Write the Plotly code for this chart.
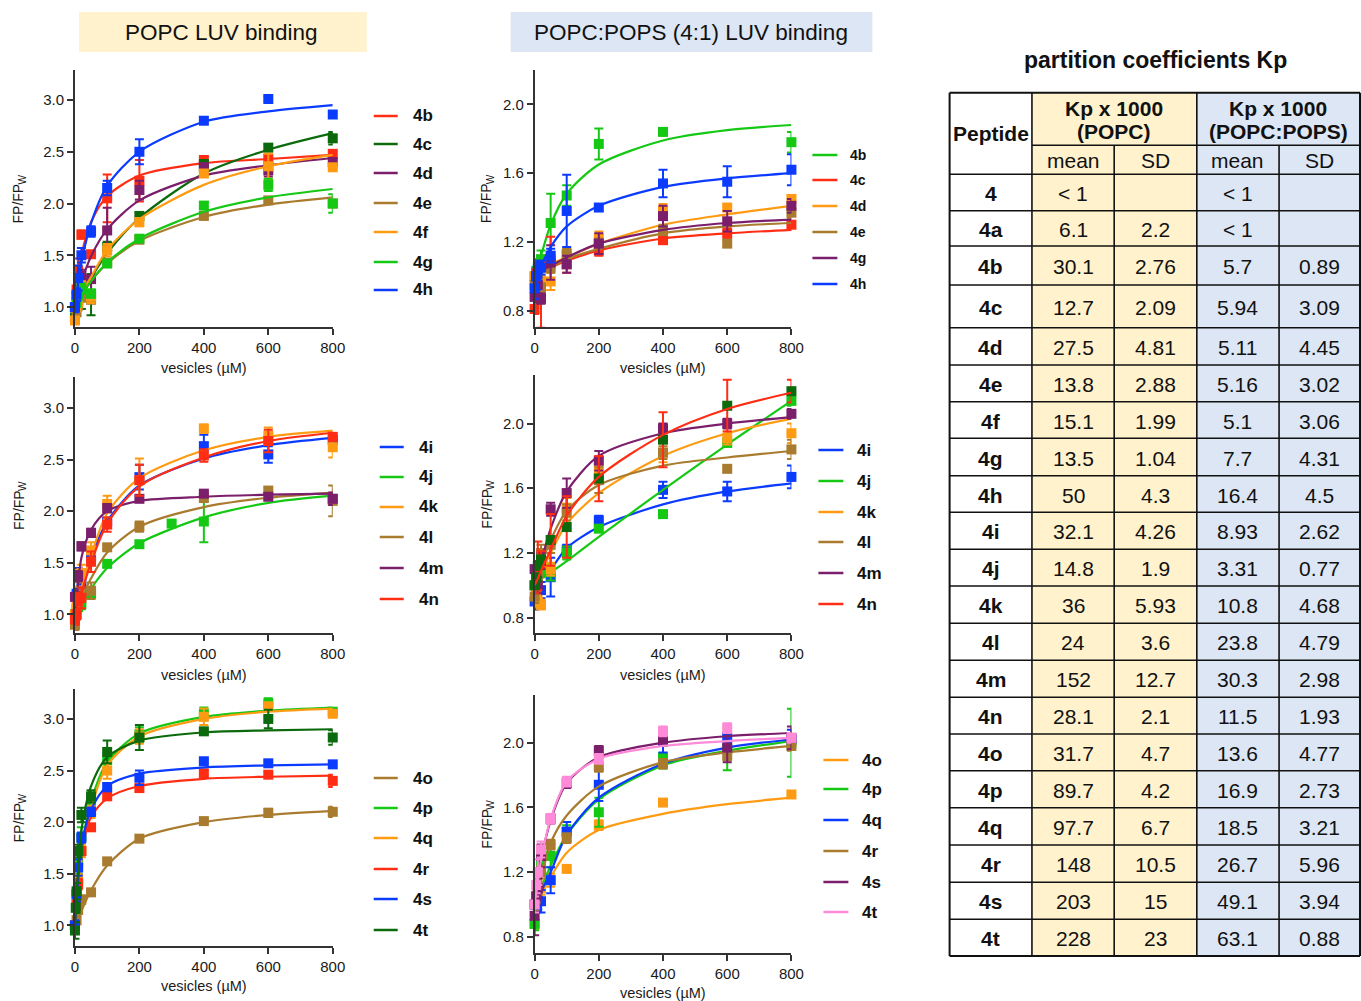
import plotly.graph_objects as go

W, H = 1361, 1001          # reference pixel space
FIG_W = 1377               # figure width (compensates horizontal squeeze of the capture)
X_SHIFT = 3                # compensates horizontal offset of the capture
FONT = "Arial, 'Liberation Sans', Helvetica, sans-serif"

RED = "#FF2D14"
DKGREEN = "#0B6A0B"
PURPLE = "#7B1E6B"
BROWN = "#A97B2F"
ORANGE = "#FF9B12"
GREEN = "#14C814"
BLUE = "#0B3BFF"
PINK = "#FF8AD8"

# ---------------- data ----------------
X_STD = [0, 5, 10, 20, 50, 100, 200, 400, 600, 800]
X_4J_POPC = [0, 5, 10, 20, 50, 100, 200, 300, 400, 800]
X_4M_POPC = [0, 10, 20, 50, 100, 200, 400, 600, 800]
X_4T_POPC = [0, 2.5, 5, 10, 20, 50, 100, 200, 400, 600, 800]
CURVE_X = [0, 10, 20, 50, 100, 200, 400, 600, 800]

X_TICKS = [0, 200, 400, 600, 800]
Y_TICKS_POPC = [1.0, 1.5, 2.0, 2.5, 3.0]
Y_TICKS_POPS = [0.8, 1.2, 1.6, 2.0]

# Panel 1: POPC, 4b-4h
P1_Y = {
    "4b": [1.0, 1.17, 1.35, 1.70, 1.51, 2.05, 2.22, 2.42, 2.43, 2.48],
    "4c": [0.90, 1.0, 1.07, 1.10, 1.12, 1.58, 1.88, 2.38, 2.54, 2.63],
    "4d": [1.0, 1.10, 1.20, 1.30, 1.27, 1.74, 2.13, 2.35, 2.32, 2.40],
    "4e": [1.0, 0.95, 1.02, 1.10, 1.07, 1.43, 1.65, 1.88, 2.03, 2.00],
    "4f": [0.87, 1.0, 1.05, 1.20, 1.10, 1.55, 1.82, 2.29, 2.36, 2.35],
    "4g": [1.0, 1.05, 1.12, 1.18, 1.13, 1.42, 1.66, 1.98, 2.18, 2.00],
    "4h": [1.0, 1.12, 1.28, 1.50, 1.73, 2.15, 2.50, 2.80, 3.01, 2.86],
}
P1_ERR = {
    "4b": [0.05, 0.05, 0.12, 0.04, 0.03, 0.23, 0.20, 0.04, 0.05, 0.03],
    "4c": [0.03, 0.04, 0.05, 0.12, 0.20, 0.05, 0.03, 0.04, 0.03, 0.06],
    "4d": [0.05, 0.05, 0.08, 0.06, 0.12, 0.22, 0.09, 0.04, 0.06, 0.04],
    "4e": [0.05, 0.04, 0.05, 0.05, 0.03, 0.03, 0.03, 0.03, 0.03, 0.03],
    "4f": [0.03, 0.04, 0.05, 0.05, 0.06, 0.06, 0.04, 0.03, 0.12, 0.03],
    "4g": [0.04, 0.05, 0.06, 0.05, 0.04, 0.03, 0.03, 0.03, 0.06, 0.09],
    "4h": [0.05, 0.06, 0.12, 0.07, 0.05, 0.07, 0.12, 0.02, 0.02, 0.02],
}
P1_FIT = {
    "4b": [1.0, 1.30, 1.50, 1.82, 2.07, 2.27, 2.39, 2.43, 2.47],
    "4c": [1.0, 1.06, 1.12, 1.28, 1.52, 1.86, 2.29, 2.52, 2.68],
    "4d": [1.0, 1.13, 1.24, 1.49, 1.75, 2.03, 2.27, 2.37, 2.44],
    "4e": [1.0, 1.06, 1.11, 1.25, 1.42, 1.64, 1.87, 1.99, 2.06],
    "4f": [1.0, 1.07, 1.13, 1.29, 1.55, 1.85, 2.18, 2.36, 2.47],
    "4g": [1.0, 1.06, 1.11, 1.25, 1.43, 1.66, 1.92, 2.06, 2.14],
    "4h": [1.0, 1.24, 1.43, 1.81, 2.17, 2.50, 2.79, 2.89, 2.95],
}

# Panel 2: POPC:POPS, 4b-4h
P2_Y = {
    "4b": [1.0, 1.03, 1.05, 1.10, 1.31, 1.47, 1.77, 1.84, None, 1.78],
    "4c": [0.81, 1.02, 1.0, 0.89, 1.10, 1.07, 1.15, 1.21, 1.25, 1.30],
    "4d": [1.0, 0.98, 1.0, 0.98, 0.97, 1.12, 1.22, 1.38, 1.40, 1.45],
    "4e": [0.95, 1.0, 0.98, 0.93, 1.05, 1.13, 1.19, 1.27, 1.19, 1.37],
    "4g": [0.88, 1.0, 0.95, 0.87, 1.08, 1.07, 1.19, 1.35, 1.32, 1.41],
    "4h": [0.93, 1.0, 1.04, 1.05, 1.12, 1.38, 1.40, 1.54, 1.55, 1.62],
}
P2_ERR = {
    "4b": [0.10, 0.05, 0.05, 0.05, 0.17, 0.06, 0.09, 0.02, 0.0, 0.06],
    "4c": [0.03, 0.05, 0.07, 0.19, 0.13, 0.05, 0.03, 0.02, 0.03, 0.03],
    "4d": [0.05, 0.05, 0.05, 0.05, 0.05, 0.04, 0.04, 0.04, 0.02, 0.02],
    "4e": [0.03, 0.03, 0.03, 0.03, 0.03, 0.03, 0.03, 0.03, 0.02, 0.03],
    "4g": [0.03, 0.05, 0.05, 0.03, 0.10, 0.05, 0.06, 0.06, 0.06, 0.04],
    "4h": [0.06, 0.08, 0.05, 0.04, 0.04, 0.21, 0.02, 0.08, 0.09, 0.09],
}
P2_FIT = {
    "4b": [1.0, 1.06, 1.12, 1.30, 1.48, 1.65, 1.79, 1.85, 1.88],
    "4c": [1.0, 1.01, 1.02, 1.05, 1.09, 1.15, 1.22, 1.25, 1.27],
    "4d": [1.0, 1.01, 1.03, 1.07, 1.11, 1.19, 1.30, 1.36, 1.41],
    "4e": [1.0, 1.01, 1.02, 1.05, 1.10, 1.16, 1.25, 1.29, 1.31],
    "4g": [1.0, 1.01, 1.03, 1.06, 1.11, 1.19, 1.27, 1.31, 1.33],
    "4h": [1.0, 1.02, 1.06, 1.17, 1.29, 1.41, 1.52, 1.57, 1.60],
}

# Panel 3: POPC, 4i-4n
P3_Y = {
    "4i": [1.0, 1.20, 1.40, 1.30, 1.57, 1.90, 2.33, 2.63, 2.55, 2.69],
    "4j": [1.0, 1.05, 1.07, 1.10, 1.20, 1.49, 1.68, 1.88, 1.90, 2.12],
    "4k": [1.0, 1.10, 1.35, 1.40, 1.62, 2.07, 2.30, 2.80, 2.73, 2.62],
    "4l": [0.90, 1.0, 1.10, 1.20, 1.23, 1.65, 1.85, 2.13, 2.20, 2.10],
    "4m": [1.17, 1.37, 1.66, 1.79, 2.03, 2.12, 2.17, 2.14, 2.12],
    "4n": [0.95, 1.0, 1.15, 1.16, 1.51, 1.87, 2.30, 2.54, 2.68, 2.72],
}
P3_ERR = {
    "4i": [0.05, 0.05, 0.05, 0.05, 0.04, 0.03, 0.12, 0.11, 0.08, 0.03],
    "4j": [0.04, 0.04, 0.03, 0.05, 0.04, 0.03, 0.02, 0.02, 0.20, 0.04],
    "4k": [0.05, 0.05, 0.08, 0.08, 0.08, 0.08, 0.21, 0.04, 0.08, 0.10],
    "4l": [0.05, 0.04, 0.05, 0.06, 0.08, 0.02, 0.05, 0.04, 0.03, 0.15],
    "4m": [0.05, 0.05, 0.04, 0.04, 0.04, 0.03, 0.03, 0.03, 0.06],
    "4n": [0.05, 0.05, 0.06, 0.10, 0.10, 0.07, 0.15, 0.06, 0.11, 0.04],
}
P3_FIT = {
    "4i": [1.0, 1.12, 1.24, 1.55, 1.90, 2.25, 2.51, 2.64, 2.71],
    "4j": [1.0, 1.04, 1.09, 1.25, 1.45, 1.69, 1.94, 2.08, 2.15],
    "4k": [1.0, 1.12, 1.25, 1.57, 1.98, 2.32, 2.59, 2.72, 2.78],
    "4l": [1.0, 1.07, 1.15, 1.35, 1.60, 1.85, 2.04, 2.13, 2.18],
    "4m": [1.0, 1.30, 1.55, 1.82, 2.00, 2.10, 2.14, 2.16, 2.17],
    "4n": [1.0, 1.10, 1.21, 1.50, 1.88, 2.24, 2.52, 2.68, 2.76],
}

# Panel 4: POPC:POPS, 4i-4n
P4_Y = {
    "4i": [0.90, 0.95, 0.97, 0.97, 1.05, 1.22, 1.40, 1.59, 1.58, 1.67],
    "4j": [1.0, 1.0, 1.05, 1.08, 1.08, 1.20, 1.35, 1.44, 1.88, 2.14],
    "4k": [1.0, 0.95, 0.90, 0.88, 1.10, 1.48, 1.71, 1.82, 1.91, 1.94],
    "4l": [0.93, 1.0, 1.05, 1.20, 1.25, 1.45, 1.65, 1.82, 1.72, 1.84],
    "4m": [1.10, 1.05, 1.0, 1.15, 1.47, 1.57, 1.77, 1.97, 2.00, 2.06],
    "4n": [1.0, 1.05, 1.12, 1.16, 1.28, 1.36, 1.66, 1.90, 2.11, 2.20],
}
P4_ERR = {
    "4i": [0.05, 0.05, 0.05, 0.05, 0.12, 0.03, 0.03, 0.05, 0.06, 0.07],
    "4j": [0.05, 0.03, 0.03, 0.03, 0.05, 0.04, 0.02, 0.02, 0.02, 0.03],
    "4k": [0.05, 0.05, 0.03, 0.03, 0.04, 0.06, 0.08, 0.06, 0.04, 0.06],
    "4l": [0.04, 0.04, 0.04, 0.05, 0.05, 0.05, 0.08, 0.04, 0.02, 0.06],
    "4m": [0.05, 0.05, 0.05, 0.05, 0.04, 0.09, 0.06, 0.03, 0.03, 0.03],
    "4n": [0.05, 0.08, 0.15, 0.05, 0.16, 0.19, 0.14, 0.17, 0.16, 0.07],
}
P4_FIT = {
    "4i": [1.0, 1.02, 1.05, 1.10, 1.23, 1.36, 1.50, 1.58, 1.63],
    "4j": [1.0, 1.02, 1.04, 1.08, 1.15, 1.30, 1.59, 1.87, 2.14],
    "4k": [1.0, 1.04, 1.08, 1.20, 1.38, 1.57, 1.80, 1.94, 2.03],
    "4l": [1.0, 1.06, 1.12, 1.28, 1.46, 1.62, 1.74, 1.79, 1.83],
    "4m": [1.0, 1.07, 1.14, 1.35, 1.58, 1.80, 1.94, 2.00, 2.04],
    "4n": [1.0, 1.04, 1.09, 1.22, 1.43, 1.67, 1.93, 2.09, 2.19],
}

# Panel 5: POPC, 4o-4t
P5_Y = {
    "4o": [1.0, 1.05, 1.15, 1.25, 1.32, 1.62, 1.84, 2.01, 2.09, 2.10],
    "4p": [1.0, 1.30, 1.60, 1.85, 2.20, 2.60, 2.85, 3.05, 3.15, 3.07],
    "4q": [1.0, 1.20, 1.45, 1.72, 2.10, 2.50, 2.83, 3.02, 3.12, 3.05],
    "4r": [1.0, 1.20, 1.40, 1.72, 1.95, 2.25, 2.33, 2.47, 2.46, 2.40],
    "4s": [1.0, 1.30, 1.56, 1.85, 2.10, 2.34, 2.43, 2.59, 2.57, 2.56],
    "4t": [0.95, 1.17, 1.33, 1.72, 2.07, 2.25, 2.68, 2.82, 2.88, 3.00, 2.82],
}
P5_ERR = {
    "4o": [0.05, 0.04, 0.04, 0.04, 0.03, 0.02, 0.02, 0.02, 0.04, 0.05],
    "4p": [0.05, 0.08, 0.10, 0.10, 0.08, 0.07, 0.07, 0.06, 0.05, 0.03],
    "4q": [0.05, 0.06, 0.08, 0.06, 0.06, 0.08, 0.07, 0.08, 0.04, 0.03],
    "4r": [0.04, 0.05, 0.05, 0.04, 0.03, 0.03, 0.03, 0.04, 0.03, 0.06],
    "4s": [0.05, 0.07, 0.08, 0.05, 0.04, 0.04, 0.07, 0.02, 0.02, 0.02],
    "4t": [0.08, 0.05, 0.08, 0.06, 0.07, 0.06, 0.11, 0.12, 0.02, 0.09, 0.07],
}
P5_FIT = {
    "4o": [1.0, 1.07, 1.14, 1.34, 1.58, 1.84, 2.00, 2.07, 2.11],
    "4p": [1.0, 1.40, 1.72, 2.20, 2.58, 2.86, 3.02, 3.08, 3.11],
    "4q": [1.0, 1.35, 1.63, 2.13, 2.55, 2.83, 3.00, 3.07, 3.10],
    "4r": [1.0, 1.45, 1.73, 2.05, 2.23, 2.35, 2.42, 2.44, 2.45],
    "4s": [1.0, 1.45, 1.77, 2.12, 2.35, 2.47, 2.53, 2.55, 2.56],
    "4t": [1.0, 1.55, 1.92, 2.35, 2.63, 2.79, 2.87, 2.89, 2.90],
}

# Panel 6: POPC:POPS, 4o-4t
P6_Y = {
    "4o": [0.88, 1.0, 1.05, 1.10, 1.15, 1.22, 1.49, 1.63, None, 1.68],
    "4p": [0.88, 1.0, 1.10, 1.25, 1.30, 1.45, 1.57, 1.91, 1.96, 2.00],
    "4q": [1.0, 1.0, 1.02, 1.02, 1.15, 1.45, 1.74, 2.01, 2.03, 2.02],
    "4r": [1.0, 1.05, 1.10, 1.20, 1.37, 1.41, 1.85, 1.87, 1.92, 1.98],
    "4s": [0.93, 1.05, 1.10, 1.30, 1.53, 1.75, 1.95, 2.02, 1.97, 2.03],
    "4t": [1.0, 1.12, 1.20, 1.34, 1.53, 1.76, 1.90, 2.07, 2.09, 2.03],
}
P6_ERR = {
    "4o": [0.03, 0.04, 0.04, 0.04, 0.04, 0.02, 0.03, 0.02, 0.0, 0.02],
    "4p": [0.04, 0.04, 0.05, 0.05, 0.07, 0.04, 0.09, 0.07, 0.13, 0.21],
    "4q": [0.04, 0.05, 0.05, 0.07, 0.08, 0.06, 0.10, 0.07, 0.04, 0.06],
    "4r": [0.04, 0.04, 0.04, 0.04, 0.03, 0.03, 0.03, 0.03, 0.03, 0.03],
    "4s": [0.12, 0.05, 0.06, 0.07, 0.03, 0.03, 0.03, 0.03, 0.09, 0.07],
    "4t": [0.05, 0.05, 0.08, 0.05, 0.03, 0.03, 0.03, 0.03, 0.03, 0.03],
}
P6_FIT = {
    "4o": [1.0, 1.03, 1.07, 1.17, 1.32, 1.46, 1.56, 1.62, 1.66],
    "4p": [1.0, 1.05, 1.10, 1.24, 1.43, 1.65, 1.86, 1.95, 2.01],
    "4q": [1.0, 1.04, 1.08, 1.20, 1.43, 1.66, 1.87, 1.97, 2.02],
    "4r": [1.0, 1.08, 1.16, 1.38, 1.55, 1.73, 1.88, 1.94, 1.98],
    "4s": [1.0, 1.14, 1.27, 1.52, 1.75, 1.91, 2.00, 2.04, 2.06],
    "4t": [1.0, 1.14, 1.27, 1.53, 1.76, 1.90, 1.98, 2.01, 2.03],
}

# Table
PEPTIDES = ["4", "4a", "4b", "4c", "4d", "4e", "4f", "4g", "4h", "4i", "4j",
            "4k", "4l", "4m", "4n", "4o", "4p", "4q", "4r", "4s", "4t"]
POPC_MEAN = ["< 1", "6.1", "30.1", "12.7", "27.5", "13.8", "15.1", "13.5", "50", "32.1", "14.8",
             "36", "24", "152", "28.1", "31.7", "89.7", "97.7", "148", "203", "228"]
POPC_SD = ["", "2.2", "2.76", "2.09", "4.81", "2.88", "1.99", "1.04", "4.3", "4.26", "1.9",
           "5.93", "3.6", "12.7", "2.1", "4.7", "4.2", "6.7", "10.5", "15", "23"]
POPS_MEAN = ["< 1", "< 1", "5.7", "5.94", "5.11", "5.16", "5.1", "7.7", "16.4", "8.93", "3.31",
             "10.8", "23.8", "30.3", "11.5", "13.6", "16.9", "18.5", "26.7", "49.1", "63.1"]
POPS_SD = ["", "", "0.89", "3.09", "4.45", "3.02", "3.06", "4.31", "4.5", "2.62", "0.77",
           "4.68", "4.79", "2.98", "1.93", "4.77", "2.73", "3.21", "5.96", "3.94", "0.88"]

# ---------------- helpers ----------------
def px(x):
    return (x - X_SHIFT) / W


def py(y):
    return 1 - y / H


fig = go.Figure()
shapes = []
annotations = []


def text(t, x, y, size, xanchor="center", angle=0, color="#111111"):
    annotations.append(dict(text=t, x=px(x), y=py(y), xref="paper", yref="paper",
                            showarrow=False, xanchor=xanchor, yanchor="middle",
                            textangle=angle, font=dict(family=FONT, size=size, color=color)))


PANELS = [
    dict(idx=1, xd=(74, 332), yd=(70, 327), yr=(0.807, 3.29), yt=Y_TICKS_POPC,
         Y=P1_Y, E=P1_ERR, F=P1_FIT,
         colors={"4b": RED, "4c": DKGREEN, "4d": PURPLE, "4e": BROWN, "4f": ORANGE, "4g": GREEN, "4h": BLUE},
         xs={}, mcol={},
         leg=dict(l0=373, l1=397, tx=410, ys=[116, 144, 173, 203, 232, 262, 290], fs=17),
         ylab_x=18, xlab_y=368),
    dict(idx=2, xd=(534, 791), yd=(70, 327), yr=(0.705, 2.2), yt=Y_TICKS_POPS,
         Y=P2_Y, E=P2_ERR, F=P2_FIT,
         colors={"4b": GREEN, "4c": RED, "4d": ORANGE, "4e": BROWN, "4g": PURPLE, "4h": BLUE},
         xs={}, mcol={},
         leg=dict(l0=812, l1=837, tx=848, ys=[155, 180, 206, 232, 258, 284], fs=14),
         ylab_x=486, xlab_y=368),
    dict(idx=3, xd=(74, 332), yd=(377, 633), yr=(0.82, 3.30), yt=Y_TICKS_POPC,
         Y=P3_Y, E=P3_ERR, F=P3_FIT,
         colors={"4i": BLUE, "4j": GREEN, "4k": ORANGE, "4l": BROWN, "4m": PURPLE, "4n": RED},
         xs={"4j": X_4J_POPC, "4m": X_4M_POPC}, mcol={},
         leg=dict(l0=379, l1=403, tx=416, ys=[447, 477, 507, 537, 568, 599], fs=17),
         ylab_x=18, xlab_y=675),
    dict(idx=4, xd=(534, 791), yd=(375, 633), yr=(0.705, 2.30), yt=Y_TICKS_POPS,
         Y=P4_Y, E=P4_ERR, F=P4_FIT,
         colors={"4i": BLUE, "4j": GREEN, "4k": ORANGE, "4l": BROWN, "4m": PURPLE, "4n": RED},
         xs={}, mcol={"4n": DKGREEN},
         leg=dict(l0=818, l1=843, tx=855, ys=[450, 481, 512, 542, 573, 604], fs=17),
         ylab_x=486, xlab_y=675),
    dict(idx=5, xd=(74, 332), yd=(689, 946), yr=(0.80, 3.29), yt=Y_TICKS_POPC,
         Y=P5_Y, E=P5_ERR, F=P5_FIT,
         colors={"4o": BROWN, "4p": GREEN, "4q": ORANGE, "4r": RED, "4s": BLUE, "4t": DKGREEN},
         xs={"4t": X_4T_POPC}, mcol={},
         leg=dict(l0=373, l1=397, tx=410, ys=[778, 808, 838, 869, 899, 930], fs=17),
         ylab_x=18, xlab_y=986),
    dict(idx=6, xd=(534, 791), yd=(695, 953), yr=(0.70, 2.295), yt=Y_TICKS_POPS,
         Y=P6_Y, E=P6_ERR, F=P6_FIT,
         colors={"4o": ORANGE, "4p": GREEN, "4q": BLUE, "4r": BROWN, "4s": PURPLE, "4t": PINK},
         xs={}, mcol={},
         leg=dict(l0=823, l1=848, tx=860, ys=[760, 789, 820, 851, 882, 912], fs=17),
         ylab_x=486, xlab_y=993),
]

AXCOL = "#333333"
layout_axes = {}
for p in PANELS:
    i = p["idx"]
    xa = "x" if i == 1 else f"x{i}"
    ya = "y" if i == 1 else f"y{i}"
    for name in p["Y"]:
        col = p["colors"][name]
        mcol = p["mcol"].get(name, col)
        xs = p["xs"].get(name, X_STD)
        fig.add_trace(go.Scatter(
            x=xs, y=p["Y"][name], mode="markers", xaxis=xa, yaxis=ya,
            marker=dict(symbol="square", size=10, color=mcol, line=dict(width=0)),
            error_y=dict(type="data", array=p["E"][name], visible=True,
                         color=col, thickness=2, width=4.5),
            cliponaxis=False, showlegend=False, hoverinfo="skip"))
        fig.add_trace(go.Scatter(
            x=CURVE_X, y=p["F"][name], mode="lines", xaxis=xa, yaxis=ya,
            line=dict(color=col, width=2.2, shape="spline", smoothing=0.8),
            cliponaxis=False, showlegend=False, hoverinfo="skip"))
    kx = "xaxis" if i == 1 else f"xaxis{i}"
    ky = "yaxis" if i == 1 else f"yaxis{i}"
    layout_axes[kx] = dict(
        domain=[px(p["xd"][0]), px(p["xd"][1])], anchor=ya, range=[0, 800],
        tickvals=X_TICKS, ticktext=[str(v) for v in X_TICKS],
        showline=True, linecolor=AXCOL, linewidth=1.6, ticks="outside", ticklen=6,
        tickwidth=1.6, tickcolor=AXCOL, showgrid=False, zeroline=False,
        tickfont=dict(family=FONT, size=15, color="#1a1a1a"), fixedrange=True)
    layout_axes[ky] = dict(
        domain=[py(p["yd"][1]), py(p["yd"][0])], anchor=xa, range=list(p["yr"]),
        tickvals=p["yt"], ticktext=[f"{v:.1f}" for v in p["yt"]],
        showline=True, linecolor=AXCOL, linewidth=1.6, ticks="outside", ticklen=6,
        tickwidth=1.6, tickcolor=AXCOL, showgrid=False, zeroline=False,
        tickfont=dict(family=FONT, size=15, color="#1a1a1a"), fixedrange=True)
    # axis titles (y title: "FP/FP" with a subscript "W", drawn as two rotated texts)
    yc = (p["yd"][0] + p["yd"][1]) / 2
    text("FP/FP", p["ylab_x"], yc + 5, 14, angle=-90, color="#1a1a1a")
    text("W", p["ylab_x"] + 3.5, yc - 19.5, 10, angle=-90, color="#1a1a1a")
    text("vesicles (µM)", (p["xd"][0] + p["xd"][1]) / 2, p["xlab_y"], 14.5, color="#1a1a1a")
    # legend
    lg = p["leg"]
    for name, yy in zip(p["Y"].keys(), lg["ys"]):
        shapes.append(dict(type="line", xref="paper", yref="paper",
                           x0=px(lg["l0"]), x1=px(lg["l1"]), y0=py(yy), y1=py(yy),
                           line=dict(color=p["colors"][name], width=2.5)))
        text(f"<b>{name}</b>", lg["tx"], yy, lg["fs"], xanchor="left")

# ---------------- titles ----------------
YELLOW = "#FFF2CC"
LBLUE = "#DCE6F4"
shapes.append(dict(type="rect", xref="paper", yref="paper", x0=px(78), x1=px(366),
                   y0=py(52), y1=py(12), fillcolor=YELLOW, line=dict(width=0), layer="below"))
shapes.append(dict(type="rect", xref="paper", yref="paper", x0=px(510), x1=px(872),
                   y0=py(52), y1=py(12), fillcolor=LBLUE, line=dict(width=0), layer="below"))
text("POPC LUV binding", 221, 32, 22.5)
text("POPC:POPS (4:1) LUV binding", 691, 32, 22.5)

# ---------------- table ----------------
text("<b>partition coefficients Kp</b>", 1155, 60, 23)

COLS = [949.3, 1031.7, 1114, 1196.7, 1279, 1360]
T_TOP, T_MID, T_HDR = 92.7, 145.3, 174.3
ROWS = [174.3, 210.7, 246, 285, 327.7, 365, 401.7, 438.3, 475.7, 512.3, 549.3, 586,
        623.3, 660.3, 697.3, 734, 770.7, 807.7, 845, 882.3, 919.3, 956]
T_BOT = ROWS[-1]

shapes.append(dict(type="rect", xref="paper", yref="paper", x0=px(COLS[1]), x1=px(COLS[3]),
                   y0=py(T_BOT), y1=py(T_TOP), fillcolor=YELLOW, line=dict(width=0), layer="below"))
shapes.append(dict(type="rect", xref="paper", yref="paper", x0=px(COLS[3]), x1=px(COLS[5]),
                   y0=py(T_BOT), y1=py(T_TOP), fillcolor=LBLUE, line=dict(width=0), layer="below"))


def hline(x0, x1, y, w=1.6):
    shapes.append(dict(type="line", xref="paper", yref="paper", x0=px(x0), x1=px(x1),
                       y0=py(y), y1=py(y), line=dict(color="#111111", width=w)))


def vline(x, y0, y1, w=1.6):
    shapes.append(dict(type="line", xref="paper", yref="paper", x0=px(x), x1=px(x),
                       y0=py(y0), y1=py(y1), line=dict(color="#111111", width=w)))


hline(COLS[0], COLS[5], T_TOP, 2)
hline(COLS[1], COLS[5], T_MID)
for r in ROWS[:-1]:
    hline(COLS[0], COLS[5], r)
hline(COLS[0], COLS[5], T_BOT, 2)
vline(COLS[0], T_TOP, T_BOT, 2)
vline(COLS[1], T_TOP, T_BOT)
vline(COLS[2], T_MID, T_BOT)
vline(COLS[3], T_TOP, T_BOT)
vline(COLS[4], T_MID, T_BOT)
vline(COLS[5], T_TOP, T_BOT, 2)

TFS = 21
text("<b>Peptide</b>", (COLS[0] + COLS[1]) / 2, (T_TOP + T_HDR) / 2, TFS)
text("<b>Kp x 1000</b>", (COLS[1] + COLS[3]) / 2, 108, TFS)
text("<b>(POPC)</b>", (COLS[1] + COLS[3]) / 2, 132, TFS)
text("<b>Kp x 1000</b>", (COLS[3] + COLS[5]) / 2, 108, TFS)
text("<b>(POPC:POPS)</b>", (COLS[3] + COLS[5]) / 2, 132, TFS)
for c0, c1, t in [(1, 2, "mean"), (2, 3, "SD"), (3, 4, "mean"), (4, 5, "SD")]:
    text(t, (COLS[c0] + COLS[c1]) / 2, (T_MID + T_HDR) / 2 + 1, TFS)

for k, pep in enumerate(PEPTIDES):
    yc = (ROWS[k] + ROWS[k + 1]) / 2 + 1
    text(f"<b>{pep}</b>", (COLS[0] + COLS[1]) / 2, yc, TFS)
    for ci, vals in zip(range(1, 5), [POPC_MEAN, POPC_SD, POPS_MEAN, POPS_SD]):
        if vals[k]:
            text(vals[k], (COLS[ci] + COLS[ci + 1]) / 2, yc, TFS)

fig.update_layout(
    width=FIG_W, height=H, autosize=False,
    margin=dict(l=0, r=0, t=0, b=0, pad=0),
    paper_bgcolor="white", plot_bgcolor="white",
    showlegend=False, shapes=shapes, annotations=annotations,
    font=dict(family=FONT, color="#111111"),
    **layout_axes)

fig.write_html(
    "out.html", config={"displayModeBar": False, "responsive": False},
    post_script=("document.documentElement.style.margin='0';"
                 "document.body.style.margin='0';document.body.style.padding='0';"))
